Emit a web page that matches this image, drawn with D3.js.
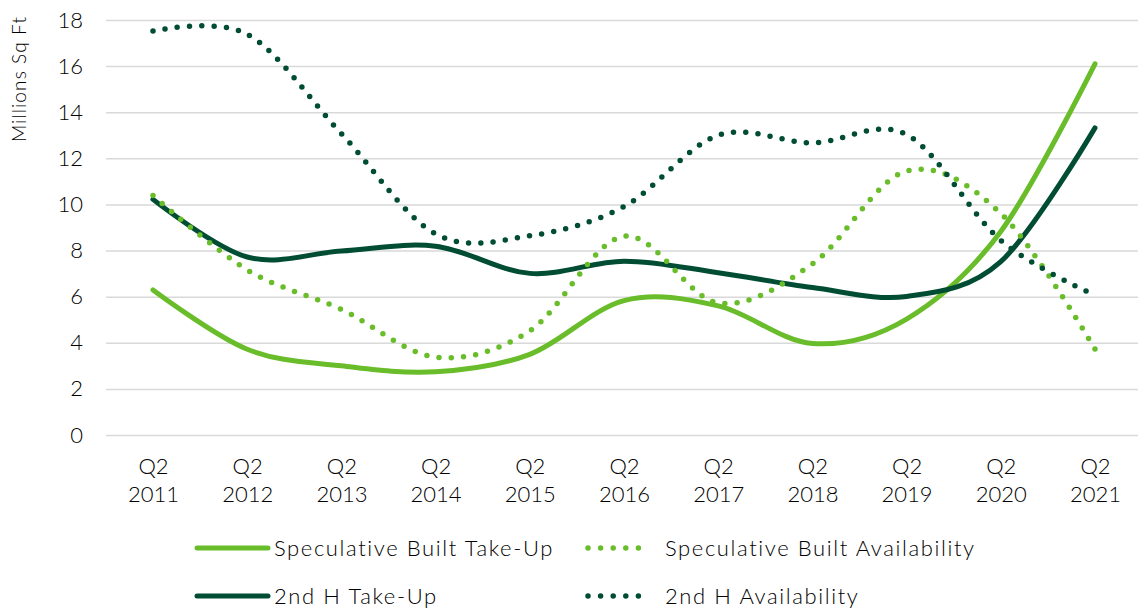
<!DOCTYPE html>
<html lang="en">
<head>
    <meta charset="UTF-8">
    <title>Take-Up and Availability</title>
    <script src="https://d3js.org/d3.v7.min.js"></script>
    <style>
        body { margin: 0; background: #fff; }
        svg text { font-family: "Lato", "Noto Sans", sans-serif; font-weight: 300; fill: #000; }
    </style>
</head>
<body>
    <svg></svg>
    <script>
        const quarters = ["Q2", "Q2", "Q2", "Q2", "Q2", "Q2", "Q2", "Q2", "Q2", "Q2", "Q2"];
        const years = ["2011", "2012", "2013", "2014", "2015", "2016", "2017", "2018", "2019", "2020", "2021"];

        const specTakeUp   = [6.29, 3.72, 3.0, 2.74, 3.5, 5.83, 5.6, 3.97, 5.03, 8.83, 16.1];
        const specAvail    = [10.39, 7.16, 5.45, 3.38, 4.52, 8.62, 5.73, 7.42, 11.45, 9.61, 3.73];
        const secondTakeUp = [10.22, 7.72, 7.98, 8.19, 7.01, 7.54, 7.04, 6.4, 6.01, 7.52, 13.32];
        const secondAvail  = [17.52, 17.38, 13.07, 8.72, 8.64, 9.91, 13.0, 12.67, 13.03, 8.44, 6.06];

        const yTicks = [0, 2, 4, 6, 8, 10, 12, 14, 16, 18];

        const lightGreen = "#6abd2a";
        const darkGreen = "#004d33";

        const series = [
            { name: "Speculative Built Take-Up", values: specTakeUp, color: lightGreen, dotted: false },
            { name: "Speculative Built Availability", values: specAvail, color: lightGreen, dotted: true },
            { name: "2nd H Take-Up", values: secondTakeUp, color: darkGreen, dotted: false },
            { name: "2nd H Availability", values: secondAvail, color: darkGreen, dotted: true }
        ];

        const width = 1138, height = 612;
        const plotLeft = 106, plotRight = 1138;

        const svg = d3.select("svg")
            .attr("width", width)
            .attr("height", height);

        const x = d3.scalePoint()
            .domain(years)
            .range([153, 1095]);

        const y = d3.scaleLinear()
            .domain([0, 18])
            .range([435, 20]);

        // gridlines + y labels
        const yAxis = svg.append("g")
            .attr("transform", `translate(${plotLeft},0)`)
            .call(d3.axisLeft(y).tickValues(yTicks).tickSize(-(plotRight - plotLeft)).tickPadding(23));
        yAxis.select(".domain").remove();
        yAxis.selectAll(".tick line").attr("stroke", "#d9d9d9").attr("stroke-width", 1.5);
        yAxis.selectAll(".tick text").style("font-size", "22px");

        // x labels, two lines each
        const xAxis = svg.append("g")
            .attr("transform", "translate(0,435)")
            .call(d3.axisBottom(x).tickSize(0).tickFormat(""));
        xAxis.select(".domain").remove();
        xAxis.selectAll(".tick text").remove();
        xAxis.selectAll(".tick").append("text")
            .attr("text-anchor", "middle")
            .style("font-size", "22px")
            .each(function(d, i) {
                const t = d3.select(this);
                t.append("tspan").attr("x", 0).attr("y", 39).text(quarters[i]);
                t.append("tspan").attr("x", 0).attr("y", 67).text(d);
            });

        // y axis title
        svg.append("text")
            .attr("transform", "translate(26,79) rotate(-90)")
            .attr("text-anchor", "middle")
            .style("font-size", "19px")
            .style("letter-spacing", "1.1px")
            .text("Millions Sq Ft");

        const line = d3.line()
            .x((d, i) => x(years[i]))
            .y(d => y(d))
            .curve(d3.curveCardinal.tension(0));

        // dotted ones last, as in the original
        const order = [series[0], series[2], series[1], series[3]];
        svg.selectAll(".series")
            .data(order)
            .enter()
            .append("path")
            .attr("class", "series")
            .attr("d", d => line(d.values))
            .attr("fill", "none")
            .attr("stroke", d => d.color)
            .attr("stroke-width", d => d.dotted ? 5.5 : 5)
            .attr("stroke-linecap", "round")
            .attr("stroke-dasharray", d => d.dotted ? "0,12.3" : null);

        // legend
        const legendPos = [
            { x: 197, y: 548 },
            { x: 588, y: 548 },
            { x: 197, y: 596 },
            { x: 588, y: 596 }
        ];

        series.forEach((s, i) => {
            const g = svg.append("g")
                .attr("transform", `translate(${legendPos[i].x},${legendPos[i].y})`);
            if (s.dotted) {
                g.append("line")
                    .attr("x1", 0).attr("x2", 63)
                    .attr("stroke", s.color)
                    .attr("stroke-width", 5.5)
                    .attr("stroke-linecap", "round")
                    .attr("stroke-dasharray", "0,12.6");
            } else {
                g.append("line")
                    .attr("x1", 0).attr("x2", 71)
                    .attr("stroke", s.color)
                    .attr("stroke-width", 5)
                    .attr("stroke-linecap", "round");
            }
            g.append("text")
                .attr("x", 77)
                .attr("dy", "0.35em")
                .style("font-size", "22px")
                .style("letter-spacing", "1.6px")
                .text(s.name);
        });
    </script>
</body>
</html>
